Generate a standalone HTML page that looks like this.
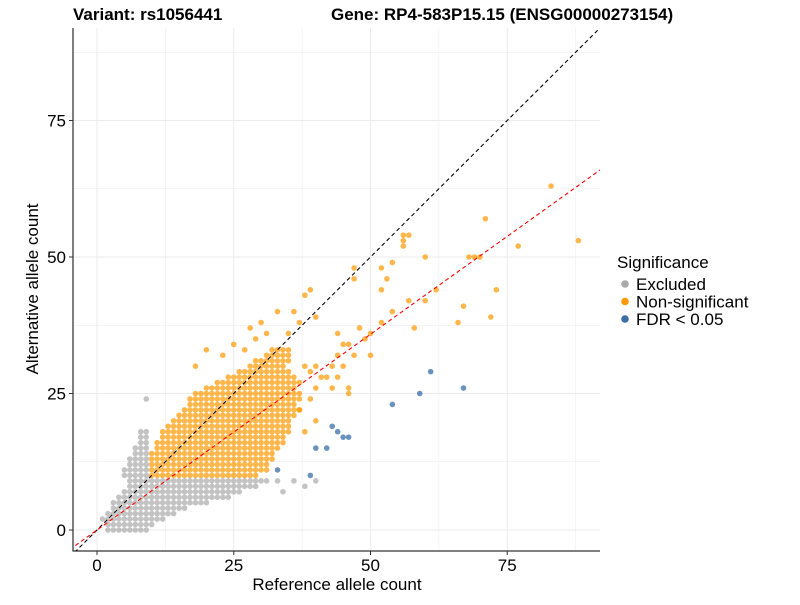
<!DOCTYPE html>
<html><head><meta charset="utf-8"><style>
body{margin:0;background:#fff;font-family:"Liberation Sans",sans-serif}
svg text{font-family:"Liberation Sans",sans-serif}
</style></head><body>
<svg id="chart" width="800" height="600"></svg>
<script>
// Data
const orangeRows = [[10,10,29],[11,10,31],[12,10,31],[13,10,32],[14,10,32],[15,11,33],[16,11,34],[17,12,34],[18,12,35],[19,13,35],[20,14,35],[21,15,36],[22,16,37],[23,17,36],[24,17,37],[25,18,37],[26,20,36],[27,22,37],[28,24,36],[29,26,35],[30,28,34],[31,29,35],[32,31,35],[33,32,35]];
const greyRows = [[0,2,9],[1,2,10],[2,1,12],[3,2,14],[4,3,16],[5,3,20],[6,4,24],[7,5,26],[8,6,29],[9,6,31],[10,5,9],[11,5,9],[12,6,9],[13,6,9],[14,7,9],[15,7,9],[16,8,9],[17,8,9],[18,8,9]];
const greyExtra = [[9,24],[36,9],[38,8],[34,7],[40,9],[33,9]];
const orangeExtra = [[88,53],[83,63],[77,52],[73,44],[71,57],[70,50],[69,50],[68,50],[67,41],[66,38],[72,39],[62,44],[60,42],[58,37],[60,50],[54,49],[57,54],[56,54],[56,53],[56,52],[52,48],[52,44],[53,46],[54,40],[57,42],[47,48],[47,46],[52,38],[50,36],[49,35],[45,34],[46,34],[48,37],[44,32],[47,32],[45,30],[43,30],[42,28],[43,26],[40,30],[41,28],[39,29],[46,26],[46,25],[50,32],[44,36],[44,28],[28,37],[30,38],[33,40],[36,40],[38,43],[39,44],[40,39],[25,34],[27,33],[29,35],[31,36],[35,36],[37,38],[20,33],[18,30],[23,32],[38,30],[40,26],[39,24],[37,22],[40,20],[38,18]];
const bluePts = [[67,26],[61,29],[59,25],[54,23],[46,17],[45,17],[44,18],[43,19],[42,15],[40,15],[39,10],[33,11]];
const xTicks = [0,25,50,75];
const yTicks = [0,25,50,75];
const fitSlope = [0.717];
const legendLabels = ["Excluded","Non-significant","FDR < 0.05"];

const NS="http://www.w3.org/2000/svg";
const svg=document.getElementById('chart');
const L=73,R=600,T=28,B=551;
const sx=v=>97+v*5.47, sy=v=>530-v*5.46;
function el(tag,attrs,parent){const e=document.createElementNS(NS,tag);for(const k in attrs)e.setAttribute(k,attrs[k]);(parent||svg).appendChild(e);return e;}
const grid=el('g',{});


for(let v=-0;v<=90;v+=12.5){
  const w=(v%25===0)?1:0.5;
  if(sx(v)<R) el('line',{x1:sx(v),x2:sx(v),y1:T,y2:B,stroke:'#ebebeb','stroke-width':w},grid);
  if(sy(v)>T) el('line',{x1:L,x2:R,y1:sy(v),y2:sy(v),stroke:'#ebebeb','stroke-width':w},grid);
}
const pts=el('g',{});


function dot(x,y,c,o){const d=el('circle',{cx:sx(x),cy:sy(y),r:2.8,fill:c,'fill-opacity':o},pts);

}
greyRows.forEach(r=>{for(let x=r[1];x<=r[2];x++)dot(x,r[0],'#aaaaaa',0.7);});
greyExtra.forEach(p=>dot(p[0],p[1],'#aaaaaa',0.7));
orangeRows.forEach(r=>{for(let x=r[1];x<=r[2];x++)dot(x,r[0],'#ff9900',0.7);});
orangeExtra.forEach(p=>dot(p[0],p[1],'#ff9900',0.7));
bluePts.forEach(p=>dot(p[0],p[1],'#3a6ea5',0.75));
const clip=el('clipPath',{id:'c'});el('rect',{x:L,y:T,width:R-L,height:B-T},clip);
const idl=el('line',{x1:sx(-5),y1:sy(-5),x2:sx(100),y2:sy(100),stroke:'#000','stroke-width':1.1,'stroke-dasharray':'4,3','clip-path':'url(#c)'});


const fl=el('line',{x1:sx(-5),y1:sy(-5*fitSlope[0]),x2:sx(100),y2:sy(100*fitSlope[0]),stroke:'#ff0000','stroke-width':1.1,'stroke-dasharray':'4,3','clip-path':'url(#c)'});


el('line',{x1:L,x2:L,y1:T,y2:B+0.5,stroke:'#000','stroke-width':1});
el('line',{x1:L,x2:R,y1:B,y2:B,stroke:'#000','stroke-width':1});
xTicks.forEach(v=>{el('line',{x1:sx(v),x2:sx(v),y1:B,y2:B+4,stroke:'#333'});
const t=el('text',{x:sx(v),y:B+20,'text-anchor':'middle','font-size':17,fill:'#000'});t.textContent=v;

});
yTicks.forEach(v=>{el('line',{x1:L-4,x2:L,y1:sy(v),y2:sy(v),stroke:'#333'});
const t=el('text',{x:L-7,y:sy(v)+6,'text-anchor':'end','font-size':17,fill:'#000'});t.textContent=v;

});
const lc=['#aaaaaa','#ff9900','#3a6ea5'];
legendLabels.forEach((s,i)=>{el('circle',{cx:625,cy:284+i*17.5,r:3.8,fill:lc[i]});
const t=el('text',{x:636,y:290+i*17.5,'font-size':17,fill:'#000'});t.textContent=s;

});
</script>
<div style="position:absolute;left:73px;top:5px;font-size:17px;font-weight:bold">Variant: rs1056441</div>
<div style="position:absolute;left:331px;top:5px;font-size:17px;font-weight:bold">Gene: RP4-583P15.15 (ENSG00000273154)</div>
<div style="position:absolute;left:617px;top:253px;font-size:17px">Significance</div>
<div style="position:absolute;left:0;width:674px;text-align:center;top:575px;font-size:17px">Reference allele count</div>
<div style="position:absolute;left:33px;top:289px;transform:translate(-50%,-50%) rotate(-90deg);font-size:17px;white-space:nowrap">Alternative allele count</div>
</body></html>
